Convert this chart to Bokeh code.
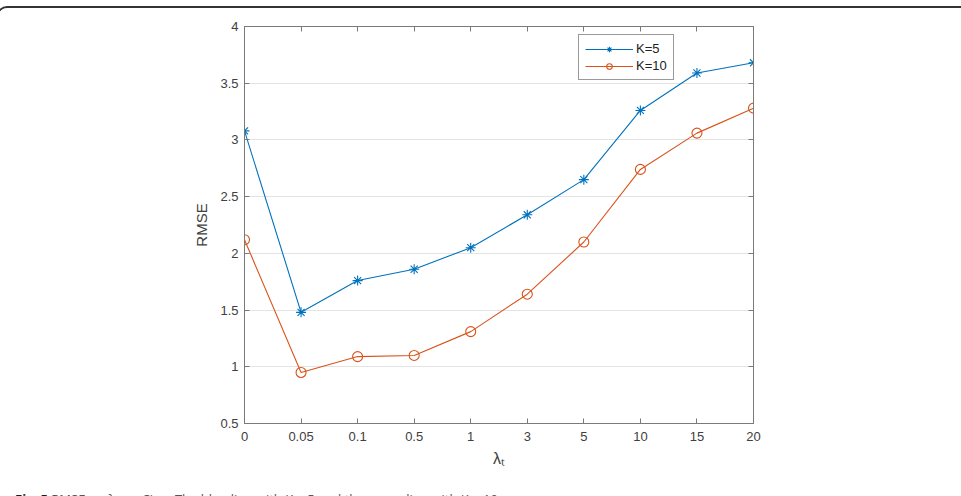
from bokeh.plotting import figure
from bokeh.layouts import column
from bokeh.models import (Range1d, FixedTicker, LinearAxis, Legend, LegendItem,
                          CustomJSTickFormatter, Div)
from bokeh.embed import file_html
from bokeh.resources import INLINE

# Regularisation weights (evenly spaced categories on the x axis)
lambda_labels = ["0", "0.05", "0.1", "0.5", "1", "3", "5", "10", "15", "20"]
# RMSE for the two latent dimensions
rmse_k5 = [3.08, 1.48, 1.76, 1.86, 2.05, 2.34, 2.65, 3.26, 3.59, 3.68]
rmse_k10 = [2.12, 0.95, 1.09, 1.10, 1.31, 1.64, 2.10, 2.74, 3.06, 3.28]
y_ticks = [0.5, 1, 1.5, 2, 2.5, 3, 3.5, 4]
series_names = ["K=5", "K=10"]
caption_html = ('<b style="color:#1a1a1a">Fig. 5</b> RMSE vs. λ<sub>t</sub> on Ciao. '
                'The blue line with K = 5 and the green line with K = 10')

x_pos = list(range(len(lambda_labels)))

BLUE = "#0072BD"
ORANGE = "#D95319"
AXIS = "#7a7a7a"
TEXT = "#404040"
FONT = "Liberation Sans"

p = figure(width=960, height=479, output_backend="svg", toolbar_location=None,
           x_range=Range1d(0, len(lambda_labels) - 1), y_range=Range1d(0.5, 4),
           min_border_left=245, min_border_right=206, min_border_top=18,
           min_border_bottom=64, x_axis_location=None, y_axis_location=None)
p.background_fill_color = "white"
p.border_fill_color = "white"
p.outline_line_color = AXIS
p.outline_line_width = 1

x_fmt = CustomJSTickFormatter(args=dict(labels=lambda_labels),
                              code="return labels[Math.round(tick)];")
y_fmt = CustomJSTickFormatter(code="return String(tick);")
blank_fmt = CustomJSTickFormatter(code="return '';")


def style_axis(ax):
    ax.axis_line_color = AXIS
    ax.major_tick_line_color = AXIS
    ax.major_tick_in = 5
    ax.major_tick_out = 0
    ax.minor_tick_line_color = None
    ax.major_label_text_font = FONT
    ax.major_label_text_font_size = "13px"
    ax.major_label_text_color = TEXT
    ax.axis_label_text_font = FONT
    ax.axis_label_text_font_style = "normal"
    ax.axis_label_text_color = TEXT


xb = LinearAxis(ticker=FixedTicker(ticks=x_pos), formatter=x_fmt, axis_label="λₜ")
style_axis(xb)
xb.major_label_standoff = 8
xb.axis_label_text_font_size = "16px"
xb.axis_label_standoff = 6
p.add_layout(xb, "below")

xt = LinearAxis(ticker=FixedTicker(ticks=x_pos), formatter=blank_fmt)
style_axis(xt)
xt.major_label_standoff = 0
p.add_layout(xt, "above")

yl = LinearAxis(ticker=FixedTicker(ticks=y_ticks), formatter=y_fmt, axis_label="RMSE")
style_axis(yl)
yl.major_label_standoff = 6
yl.axis_label_text_font_size = "15px"
yl.axis_label_standoff = 7
p.add_layout(yl, "left")

yr = LinearAxis(ticker=FixedTicker(ticks=y_ticks), formatter=blank_fmt)
style_axis(yr)
yr.major_label_standoff = 0
p.add_layout(yr, "right")

p.xgrid.visible = False
p.ygrid.ticker = FixedTicker(ticks=y_ticks)
p.ygrid.grid_line_color = "#e3e3e3"
p.ygrid.grid_line_width = 1

l1 = p.line(x_pos, rmse_k5, line_color=BLUE, line_width=1.1)
m1 = p.scatter(x_pos, rmse_k5, marker="asterisk", size=10, line_color=BLUE, line_width=1.1)
l2 = p.line(x_pos, rmse_k10, line_color=ORANGE, line_width=1.1)
m2 = p.scatter(x_pos, rmse_k10, marker="circle", size=10, line_color=ORANGE,
               fill_color=None, line_width=1.1)

legend = Legend(items=[LegendItem(label=series_names[0], renderers=[l1, m1]),
                       LegendItem(label=series_names[1], renderers=[l2, m2])],
                location=(334, 343))
legend.border_line_color = "#333333"
legend.border_line_width = 1
legend.background_fill_alpha = 1
legend.label_text_font = FONT
legend.label_text_font_size = "13px"
legend.label_text_color = "#222222"
legend.glyph_width = 48
legend.glyph_height = 14
legend.label_height = 14
legend.label_standoff = 3
legend.spacing = 2
legend.padding = 6
legend.margin = 0
p.add_layout(legend, "center")

caption = Div(text=caption_html, width=960, height=9,
              styles={"overflow": "hidden", "font-family": "Open Sans",
                      "font-size": "13px", "line-height": "13px", "color": "#555555",
                      "white-space": "nowrap", "padding-left": "11px",
                      "padding-top": "1px", "background": "white"})

# page frame: rounded top corners, open at the bottom
page = column(p, caption, spacing=0,
              styles={"margin-top": "6px", "margin-left": "-3px",
                      "border-top": "2px solid #333333",
                      "border-left": "2px solid #333333",
                      "border-right": "2px solid #333333",
                      "border-radius": "10px 10px 0 0",
                      "overflow": "hidden", "background": "white"})

open("out.html", "w").write(file_html(page, INLINE))
